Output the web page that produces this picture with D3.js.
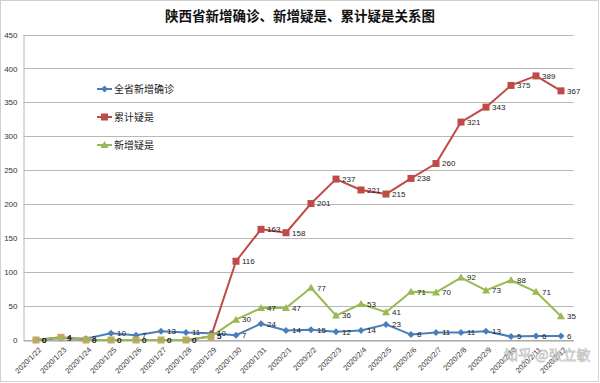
<!DOCTYPE html>
<html><head><meta charset="utf-8">
<script src="https://cdn.jsdelivr.net/npm/d3@7"></script>
<style>
html,body{margin:0;padding:0;background:#fff;}
svg{display:block;font-family:"Noto Sans CJK SC","Noto Sans",sans-serif;}
</style></head>
<body><svg id="c" width="600" height="383"></svg>
<script>
const dates = ["2020/1/22","2020/1/23","2020/1/24","2020/1/25","2020/1/26","2020/1/27","2020/1/28","2020/1/29","2020/1/30","2020/1/31","2020/2/1","2020/2/2","2020/2/3","2020/2/4","2020/2/5","2020/2/6","2020/2/7","2020/2/8","2020/2/9","2020/2/10","2020/2/11","2020/2/12"];
const newConfirmed = [0,3,2,10,7,13,11,10,7,24,14,15,12,14,23,8,11,11,13,5,6,6];
const cumSuspected = [0,4,0,0,0,0,0,5,116,163,158,201,237,221,215,238,260,321,343,375,389,367];
const newSuspected = [0,4,0,0,0,0,0,5,30,47,47,77,36,53,41,71,70,92,73,88,71,35];
const yTicks = [0,50,100,150,200,250,300,350,400,450];
const seriesNames = ["全省新增确诊","累计疑是","新增疑是"];
const title = "陕西省新增确诊、新增疑是、累计疑是关系图";

const svg = d3.select("#c");
svg.append("rect").attr("x",0.5).attr("y",0.5).attr("width",598).attr("height",381)
  .attr("fill","#fff").attr("stroke","#d0d0d0");

const L=23.5, R=573.5, T=34.5, B=340;
const x = d3.scaleBand().domain(dates).range([L,R]);
const cx = d => x(d)+x.bandwidth()/2;
const y = d3.scaleLinear().domain([0,450]).range([B,T]);

svg.append("g").selectAll("line").data(yTicks).join("line")
  .attr("x1",L).attr("x2",R).attr("y1",d=>Math.round(y(d))+0.5).attr("y2",d=>Math.round(y(d))+0.5)
  .attr("stroke","#b8b8b8").attr("stroke-width",1);

const ya = svg.append("g").attr("transform",`translate(${L},0)`)
  .call(d3.axisLeft(y).tickValues(yTicks).tickSize(0).tickPadding(6));
ya.select(".domain").attr("stroke","#b8b8b8");
ya.selectAll("text").attr("font-size","8px").attr("fill","#333").attr("font-family","Liberation Sans, sans-serif");

const xa = svg.append("g").attr("transform",`translate(0,${Math.round(B)+0.5})`)
  .call(d3.axisBottom(x).tickSize(0));
xa.select(".domain").attr("stroke","#a0a0a0");
xa.selectAll("text").attr("font-size","7.5px").attr("fill","#333")
  .attr("font-family","Liberation Sans, sans-serif")
  .attr("text-anchor","end")
  .attr("transform","translate(4,4) rotate(-45)")
  .attr("dy","0.35em").attr("y",0).attr("x",0);
xa.selectAll(".tick").attr("transform",d=>`translate(${cx(d)},4)`);

svg.append("text").attr("x",300).attr("y",21).attr("text-anchor","middle")
  .attr("font-size","13.5px").attr("font-weight","bold").attr("fill","#111").text(title);

const colors = ["#4a7ebb","#be4b48","#98b954"];
const data = [newConfirmed,cumSuspected,newSuspected];
const line = d3.line().x((d,i)=>cx(dates[i])).y(d=>y(d));

function marker(g,type,col,px,py,op){
  let m;
  if(type===0){
    m=g.append("path").attr("d",`M${px},${py-3.5}L${px+3.5},${py}L${px},${py+3.5}L${px-3.5},${py}Z`);
  } else if(type===1){
    m=g.append("rect").attr("x",px-3.5).attr("y",py-3.5).attr("width",7).attr("height",7);
  } else {
    m=g.append("path").attr("d",`M${px},${py-4}L${px+4},${py+3}L${px-4},${py+3}Z`);
  }
  m.attr("fill",col).attr("fill-opacity",op==null?1:op);
}

[0,1,2].forEach(k=>{
  const g = svg.append("g");
  g.append("path").datum(data[k]).attr("d",line).attr("fill","none")
    .attr("stroke",colors[k]).attr("stroke-width",2).attr("stroke-linejoin","round");
  data[k].forEach((v,i)=>{
    const shared = (k===1 && v===newSuspected[i] && v<10);
    marker(g,k,shared?"#c2a862":colors[k],cx(dates[i]),y(v), (k===2 && v===cumSuspected[i] && v<10)?0:1);
  });
});
[0,1,2].forEach(k=>{
  const g = svg.append("g");
  data[k].forEach((v,i)=>{
    g.append("text").attr("x",cx(dates[i])+6).attr("y",y(v)).attr("dy","0.35em")
      .attr("font-size","8px").attr("fill","#222").attr("font-family","Liberation Sans, sans-serif").text(v);
  });
});

const leg = svg.append("g");
const ly=[89,117,145];
seriesNames.forEach((n,k)=>{
  leg.append("line").attr("x1",97).attr("x2",112).attr("y1",ly[k]).attr("y2",ly[k])
    .attr("stroke",colors[k]).attr("stroke-width",2);
  marker(leg,k,colors[k],104.5,ly[k]);
  leg.append("text").attr("x",114).attr("y",ly[k]).attr("dy","0.35em")
    .attr("font-size","10px").attr("fill","#222").text(n);
});

svg.append("text").attr("x",504).attr("y",360).attr("font-size","14px")
  .attr("fill","#fff").attr("fill-opacity",0.85).attr("stroke","#999").attr("stroke-opacity",0.55).attr("stroke-width",0.8)
  .text("知乎 @张立敏");
</script></body></html>
